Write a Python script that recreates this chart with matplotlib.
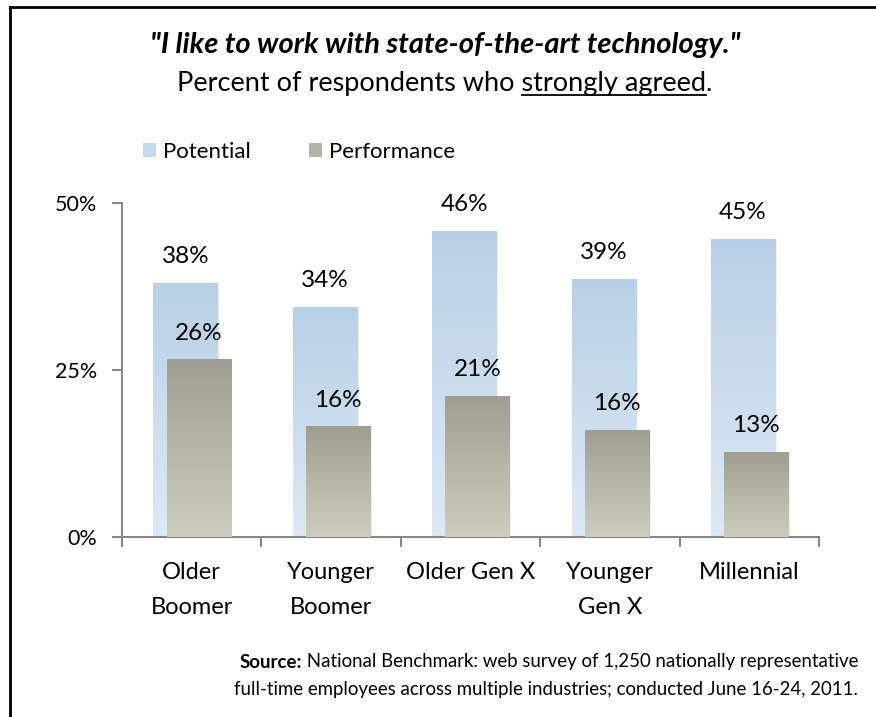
import numpy as np
import matplotlib.pyplot as plt
from matplotlib.colors import LinearSegmentedColormap
from matplotlib.patches import Patch
from matplotlib.lines import Line2D

# chart data
categories = ["Older\nBoomer", "Younger\nBoomer", "Older Gen X", "Younger\nGen X", "Millennial"]
potential = [38.0, 34.4, 45.8, 38.6, 44.6]
performance = [26.5, 16.5, 21.1, 16.0, 12.7]
potential_labels = ["38%", "34%", "46%", "39%", "45%"]
performance_labels = ["26%", "16%", "21%", "16%", "13%"]
yticks = [0, 25, 50]
ytick_labels = ["0%", "25%", "50%"]

plt.rcParams['font.family'] = ['Lato', 'DejaVu Sans']

W, H = 876, 717
fig = plt.figure(figsize=(W / 100, H / 100), dpi=100)
ax = fig.add_axes([122 / W, 180 / H, 697 / W, 334 / H])

x = np.arange(len(categories))
width = 0.46
b1 = ax.bar(x - 0.045, potential, width, color='none', zorder=1)
b2 = ax.bar(x + 0.05, performance, width, color='none', zorder=3)


# fill each bar with a vertical gradient (bottom colour -> top colour)
def grad_fill(bars, bottom, top, z):
    cmap = LinearSegmentedColormap.from_list('g', [bottom, top])
    grad = np.linspace(0, 1, 256).reshape(-1, 1)
    for b in bars:
        x0, y0 = b.get_x(), b.get_y()
        # soft shadow on the right side
        ax.bar(x0 + b.get_width() / 2 + 0.012, b.get_height(), b.get_width(),
               color='#000000', alpha=0.06, zorder=z - 0.5)
        ax.imshow(grad, extent=[x0, x0 + b.get_width(), y0, y0 + b.get_height()],
                  origin='lower', cmap=cmap, aspect='auto', zorder=z,
                  interpolation='bicubic')


grad_fill(b1, '#DDE9F4', '#B8D0E6', 2)
grad_fill(b2, '#CDCDBF', '#9E9E92', 4)

for xi, v, lab in zip(x - 0.045, potential, potential_labels):
    ax.text(xi, v + 4, lab, ha='center', va='center', fontsize=17.5, clip_on=False)
for xi, v, lab in zip(x + 0.05, performance, performance_labels):
    ax.text(xi, v + 4, lab, ha='center', va='center', fontsize=17.5, zorder=6)

ax.set_xlim(-0.5, 4.5)
ax.set_ylim(0, 50)
ax.set_xticks(np.arange(-0.5, 5, 1))
ax.set_xticklabels([])
ax.set_xticks(x, categories, minor=True)
ax.tick_params(axis='x', which='major', length=7, width=1.5, color='#888888')
ax.tick_params(axis='x', which='minor', length=0, pad=18, labelsize=17)
for t in ax.get_xticklabels(minor=True):
    t.set_linespacing(1.8)
ax.set_yticks(yticks, ytick_labels)
ax.tick_params(axis='y', length=7, width=1.5, color='#888888', pad=11, labelsize=15.5)
for s in ['top', 'right']:
    ax.spines[s].set_visible(False)
for s in ['left', 'bottom']:
    ax.spines[s].set_color('#888888')
    ax.spines[s].set_linewidth(1.5)

# legend
handles = [Patch(facecolor='#C6DAEC'), Patch(facecolor='#B3B3A6')]
fig.legend(handles, ['Potential', 'Performance'], loc='center left',
           bbox_to_anchor=(143 / W, 1 - 152 / H), ncol=2, frameon=False,
           handlelength=0.6, handleheight=0.6, handletextpad=0.3,
           columnspacing=2.6, fontsize=16, borderpad=0, borderaxespad=0)

# titles
fig.text(445 / W, 1 - 45 / H, '"I like to work with state-of-the-art technology."',
         ha='center', va='center', fontsize=21, fontweight='bold', fontstyle='italic')
sub = fig.text(445 / W, 1 - 83 / H, 'Percent of respondents who strongly agreed.',
               ha='center', va='center', fontsize=19.5)

fig.canvas.draw()
r = fig.canvas.get_renderer()


def text_w(s, **kw):
    t = fig.text(0, 0, s, **kw)
    w = t.get_window_extent(r).width
    t.remove()
    return w


# underline "strongly agreed"
bb = sub.get_window_extent(r)
w_to_end = text_w('Percent of respondents who strongly agreed', fontsize=19.5)
w_ul = text_w('strongly agreed', fontsize=19.5)
uy = (bb.y0 + 1) / H
fig.add_artist(Line2D([(bb.x0 + w_to_end - w_ul) / W, (bb.x0 + w_to_end) / W], [uy, uy],
                      color='black', lw=1.3))

# source note, right aligned with a bold "Source:"
src1 = ' National Benchmark: web survey of 1,250 nationally representative'
src2 = 'full-time employees across multiple industries; conducted June 16-24, 2011.'
right = 858 / W
fs = 13.4
fig.text(right, 1 - 662 / H, src1, ha='right', va='center', fontsize=fs)
w1 = text_w(src1, fontsize=fs)
fig.text(right - w1 / W, 1 - 662 / H, 'Source:', ha='right', va='center',
         fontsize=fs, fontweight='bold')
fig.text(right, 1 - 690 / H, src2, ha='right', va='center', fontsize=fs)

# frame lines on the left and top
fig.add_artist(Line2D([10 / W, 10 / W], [0, 1 - 7 / H], color='black', lw=2))
fig.add_artist(Line2D([10 / W, 1], [1 - 7 / H, 1 - 7 / H], color='black', lw=2))

fig.savefig('out.png', dpi=100)
